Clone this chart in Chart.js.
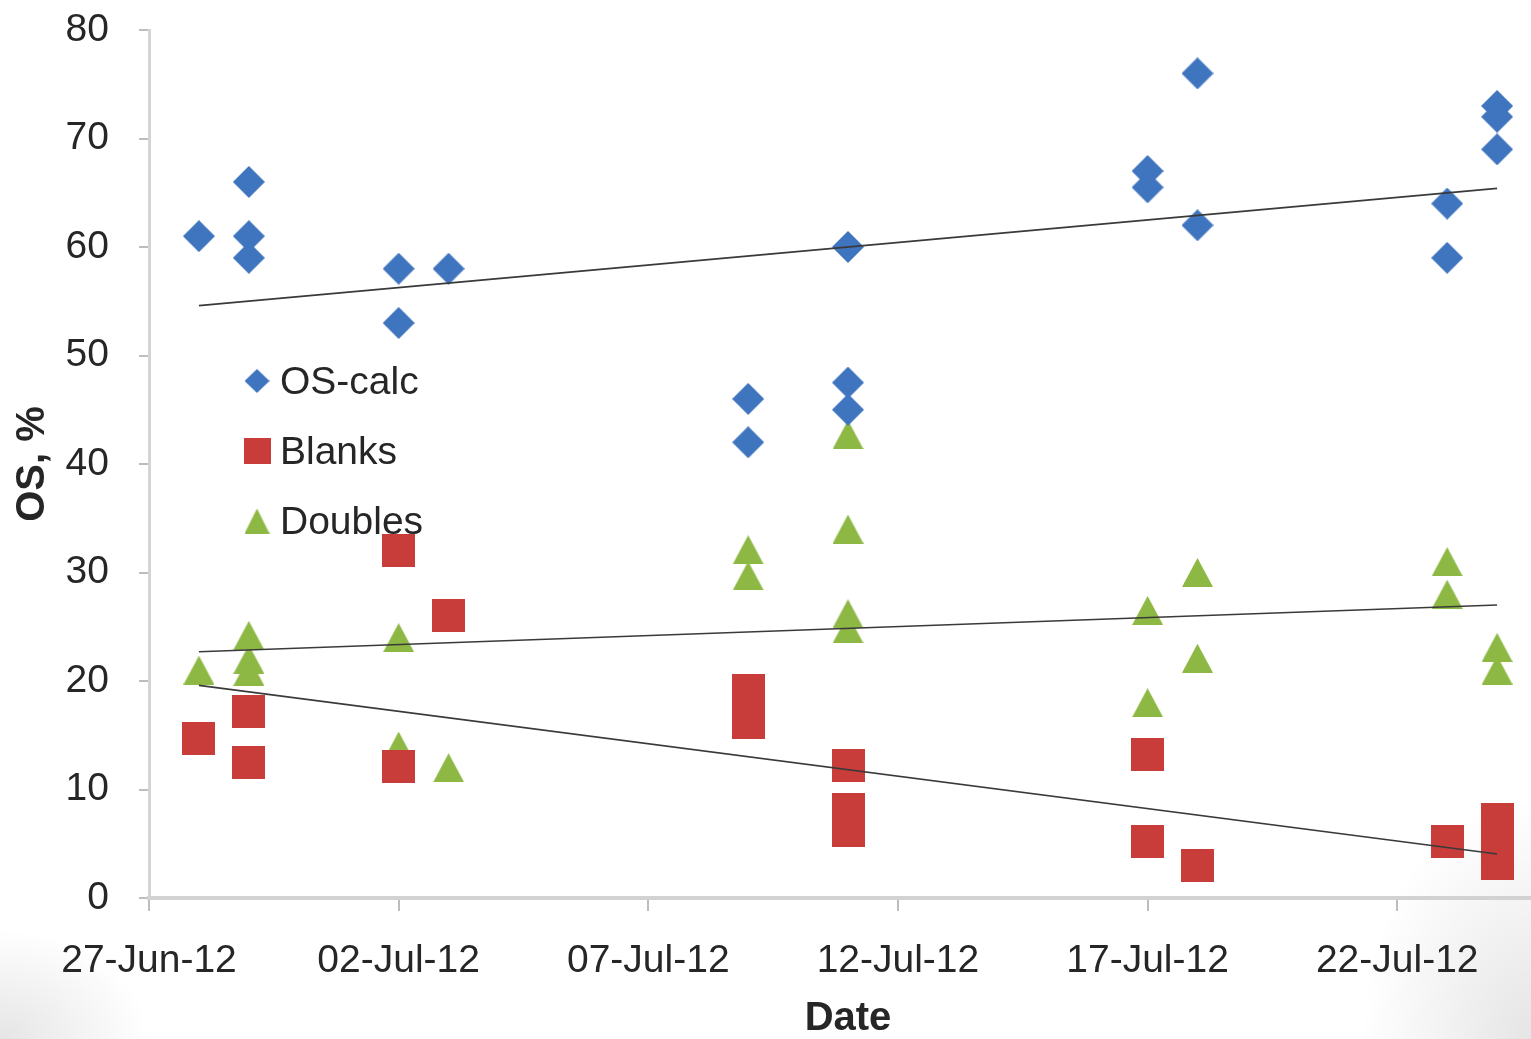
<!DOCTYPE html>
<html>
<head>
<meta charset="utf-8">
<title>OS, % by date</title>
<script src="https://cdn.jsdelivr.net/npm/chart.js@4.4.1/dist/chart.umd.min.js"></script>
<style>
  html, body { margin: 0; padding: 0; overflow: hidden; }
  body {
    width: 1531px; height: 1039px;
    background:
      radial-gradient(ellipse 150px 110px at 0% 100%, rgba(0,0,0,0.10), rgba(0,0,0,0)),
      radial-gradient(ellipse 170px 240px at 100% 100%, rgba(0,0,0,0.10), rgba(0,0,0,0)),
      #ffffff;
  }
  canvas { display: block; }
</style>
</head>
<body>
<canvas id="chart" width="1565" height="1039"></canvas>
<script>
// Axis range and ticks
const startDate = '2012-06-27';
const endDate = '2012-07-25';
const tickStepDays = 5;
const yTicks = [0, 10, 20, 30, 40, 50, 60, 70, 80];

// OS-calc
const osDates = ['2012-06-28','2012-06-29','2012-06-29','2012-06-29','2012-07-02','2012-07-02','2012-07-03',
                 '2012-07-09','2012-07-09','2012-07-11','2012-07-11','2012-07-11','2012-07-17','2012-07-17',
                 '2012-07-18','2012-07-18','2012-07-23','2012-07-23','2012-07-24','2012-07-24','2012-07-24'];
const osCalc = [61, 66, 61, 59, 58, 53, 58, 46, 42, 60, 47.5, 45, 67, 65.5, 76, 62, 64, 59, 73, 72, 69];

// Blanks
const blankDates = ['2012-06-28','2012-06-29','2012-06-29','2012-07-02','2012-07-02','2012-07-03',
                    '2012-07-09','2012-07-09','2012-07-11','2012-07-11','2012-07-11','2012-07-17','2012-07-17',
                    '2012-07-18','2012-07-23','2012-07-24','2012-07-24','2012-07-24'];
const blanks = [14.7, 17.2, 12.5, 32, 12.1, 26, 19.1, 16.2, 12.2, 8.2, 6.2, 13.2, 5.2, 3.0, 5.2, 7.2, 5.2, 3.2];

// Doubles
const doubleDates = ['2012-06-28','2012-06-29','2012-06-29','2012-06-29','2012-07-02','2012-07-02','2012-07-03',
                     '2012-07-09','2012-07-09','2012-07-11','2012-07-11','2012-07-11','2012-07-11',
                     '2012-07-17','2012-07-17','2012-07-18','2012-07-18','2012-07-23','2012-07-23','2012-07-24','2012-07-24'];
const doubles = [21, 24.2, 22, 20.9, 24, 14, 12, 32.1, 29.7, 42.7, 34, 26.2, 24.8, 26.5, 18, 30, 22.1, 31, 28, 23.1, 21];

// Linear trend lines (value at first and last sampled date)
const trendDates = ['2012-06-28', '2012-07-24'];
const osTrend = [54.6, 65.4];
const blanksTrend = [19.6, 4.05];
const doublesTrend = [22.7, 27.0];

const seriesNames = ['OS-calc', 'Blanks', 'Doubles'];
const seriesColors = ['#3f75bf', '#c83d3a', '#8db843'];

const DAY = 86400000;
const t0 = Date.parse(startDate + 'T00:00:00Z');
const dayOf = d => (Date.parse(d + 'T00:00:00Z') - t0) / DAY;
const toPoints = (dates, vals) => dates.map((d, i) => ({ x: dayOf(d), y: vals[i] }));

const MONTHS = ['Jan','Feb','Mar','Apr','May','Jun','Jul','Aug','Sep','Oct','Nov','Dec'];
function fmtDate(dayNum) {
  const d = new Date(t0 + dayNum * DAY);
  const dd = String(d.getUTCDate()).padStart(2, '0');
  const yy = String(d.getUTCFullYear()).slice(2);
  return dd + '-' + MONTHS[d.getUTCMonth()] + '-' + yy;
}

// Marker images, centred on their bounding box
function marker(shape, w, h, color) {
  const c = document.createElement('canvas');
  c.width = w; c.height = h;
  const g = c.getContext('2d');
  g.fillStyle = color;
  g.beginPath();
  if (shape === 'diamond') {
    g.moveTo(w / 2, 0); g.lineTo(w, h / 2); g.lineTo(w / 2, h); g.lineTo(0, h / 2);
  } else if (shape === 'square') {
    g.rect(0, 0, w, h);
  } else {
    g.moveTo(w / 2, 0); g.lineTo(w, h); g.lineTo(0, h);
  }
  g.closePath();
  g.fill();
  return c;
}
const diamondImg = marker('diamond', 32, 32, seriesColors[0]);
const squareImg = marker('square', 33, 33, seriesColors[1]);
const triangleImg = marker('triangle', 31, 29, seriesColors[2]);
const legendImgs = [marker('diamond', 25, 24, seriesColors[0]),
                    marker('square', 27, 26, seriesColors[1]),
                    marker('triangle', 25, 25, seriesColors[2])];

const FONT = "'Liberation Sans', Arial, sans-serif";
const TEXT = '#262626';

// Legend placed inside the plot area
const insideLegend = {
  id: 'insideLegend',
  afterDatasetsDraw(chart) {
    const { ctx, chartArea } = chart;
    const mx = chartArea.left + 108;
    const tx = chartArea.left + 131;
    const y0 = chartArea.top + 351;
    const gap = 70;
    ctx.save();
    ctx.font = '39px ' + FONT;
    ctx.fillStyle = TEXT;
    ctx.textBaseline = 'middle';
    ctx.textAlign = 'left';
    seriesNames.forEach((name, i) => {
      const y = y0 + i * gap;
      const img = legendImgs[i];
      ctx.drawImage(img, mx - img.width / 2, y - img.height / 2);
      ctx.fillText(name, tx, y + 2);
    });
    ctx.restore();
  }
};

const trendStyle = {
  showLine: true, pointRadius: 0, pointHoverRadius: 0,
  borderColor: '#3a3a3a', borderWidth: 1.6, fill: false, order: 0
};

new Chart(document.getElementById('chart'), {
  type: 'scatter',
  data: {
    datasets: [
      { label: seriesNames[0], data: toPoints(osDates, osCalc), pointStyle: diamondImg, order: 1 },
      { label: seriesNames[1], data: toPoints(blankDates, blanks), pointStyle: squareImg, order: 2 },
      { label: seriesNames[2], data: toPoints(doubleDates, doubles), pointStyle: triangleImg, order: 3 },
      Object.assign({ label: 'OS-calc trend', data: toPoints(trendDates, osTrend) }, trendStyle),
      Object.assign({ label: 'Blanks trend', data: toPoints(trendDates, blanksTrend) }, trendStyle),
      Object.assign({ label: 'Doubles trend', data: toPoints(trendDates, doublesTrend) }, trendStyle)
    ]
  },
  options: {
    responsive: false,
    animation: false,
    layout: { padding: { left: 0, top: 30, right: 18, bottom: 0 } },
    plugins: { legend: { display: false }, tooltip: { enabled: false } },
    scales: {
      x: {
        type: 'linear',
        min: 0,
        max: dayOf(endDate),
        afterFit(scale) { scale.height = 141; scale.paddingLeft = 0; scale.paddingRight = 0; },
        border: { display: true, color: '#d2d2d2', width: 4 },
        grid: { display: true, drawOnChartArea: false, drawTicks: true, tickLength: 13, color: '#bdbdbd', lineWidth: 2 },
        ticks: {
          stepSize: tickStepDays,
          includeBounds: false,
          padding: 27,
          maxRotation: 0,
          autoSkip: false,
          color: TEXT,
          font: { family: FONT, size: 39 },
          callback: v => fmtDate(v)
        },
        title: {
          display: true, text: 'Date', color: TEXT,
          font: { family: FONT, size: 40, weight: 'bold', lineHeight: 1 },
          padding: { top: 0, bottom: 0 }
        }
      },
      y: {
        min: yTicks[0],
        max: yTicks[yTicks.length - 1],
        afterFit(scale) { scale.width = 149; scale.paddingTop = 0; scale.paddingBottom = 0; },
        afterBuildTicks(scale) { scale.ticks = yTicks.map(v => ({ value: v })); },
        border: { display: true, color: '#d4d4d4', width: 3 },
        grid: { display: true, drawOnChartArea: false, drawTicks: true, tickLength: 10, color: '#bdbdbd', lineWidth: 2 },
        ticks: {
          padding: 30,
          color: TEXT,
          font: { family: FONT, size: 39 }
        },
        title: {
          display: true, text: 'OS, %', color: TEXT,
          font: { family: FONT, size: 40, weight: 'bold', lineHeight: 1 },
          padding: { top: 13, bottom: 0 }
        }
      }
    }
  },
  plugins: [insideLegend]
});
</script>
</body>
</html>
